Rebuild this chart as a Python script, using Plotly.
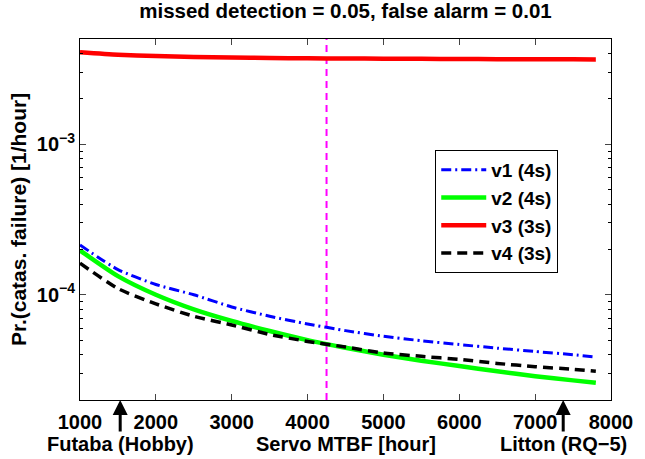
import plotly.graph_objects as go

# ---- data ----
mtbf = [1000, 1500, 2000, 2500, 3000, 3500, 4000, 4500, 5000, 5500, 6000, 6500, 7000, 7500, 7800]
v1 = [2.14e-4, 1.47e-4, 1.17e-4, 1.00e-4, 8.3e-5, 7.2e-5, 6.4e-5, 5.78e-5, 5.3e-5, 4.95e-5, 4.67e-5, 4.42e-5, 4.2e-5, 4.0e-5, 3.86e-5]
v2 = [1.97e-4, 1.33e-4, 1.00e-4, 8.0e-5, 6.7e-5, 5.75e-5, 5.0e-5, 4.45e-5, 4.0e-5, 3.65e-5, 3.36e-5, 3.1e-5, 2.88e-5, 2.7e-5, 2.6e-5]
v3 = [4.08e-3, 3.93e-3, 3.85e-3, 3.80e-3, 3.77e-3, 3.74e-3, 3.72e-3, 3.71e-3, 3.70e-3, 3.69e-3, 3.68e-3, 3.675e-3, 3.67e-3, 3.665e-3, 3.66e-3]
v4 = [1.62e-4, 1.10e-4, 8.7e-5, 7.2e-5, 6.3e-5, 5.45e-5, 4.9e-5, 4.5e-5, 4.1e-5, 3.9e-5, 3.72e-5, 3.5e-5, 3.33e-5, 3.2e-5, 3.1e-5]
series_names = ["v1 (4s)", "v2 (4s)", "v3 (3s)", "v4 (3s)"]

threshold_mtbf = 4250
futaba_mtbf = 1530
litton_mtbf = 7370

x_ticks = [1000, 2000, 3000, 4000, 5000, 6000, 7000, 8000]
y_ticks = [1e-4, 1e-3]
y_ticktext = ["10<sup>\u22124</sup>", "10<sup>\u22123</sup>"]
y_minor = [m * 10 ** e for e in (-5, -4, -3) for m in range(2, 10) if 2e-5 <= m * 10 ** e <= 5e-3]

FONT = "Liberation Sans, Arial, sans-serif"

fig = go.Figure()
styles = [
    dict(color="#0000ff", width=3, dash="10px,4px,2px,4px"),
    dict(color="#00ff00", width=4.5),
    dict(color="#ff0000", width=4.5),
    dict(color="#000000", width=3.5, dash="10px,6px"),
]
for name, ys, st in zip(series_names, [v1, v2, v3, v4], styles):
    fig.add_trace(go.Scatter(x=mtbf, y=ys, mode="lines", name=name,
                             line=dict(shape="spline", smoothing=0.6, **st)))

fig.add_shape(type="line", xref="x", yref="paper", x0=threshold_mtbf, x1=threshold_mtbf,
              y0=0, y1=1, line=dict(color="#ff00ff", width=2, dash="7px,5px"), layer="below")

# arrows under the x axis
for xv in (futaba_mtbf, litton_mtbf):
    fig.add_annotation(x=xv, y=0, xref="x", yref="paper", text="", showarrow=True,
                       ax=0, ay=33, arrowhead=2, arrowsize=1, arrowwidth=3,
                       arrowcolor="black")

bold = dict(family=FONT, size=20, color="black", weight="bold")
fig.add_annotation(x=futaba_mtbf, y=0, xref="x", yref="paper", text="Futaba (Hobby)",
                   showarrow=False, yshift=-44, yanchor="middle", font=bold)
fig.add_annotation(x=0.5, y=0, xref="paper", yref="paper", text="Servo MTBF [hour]",
                   showarrow=False, yshift=-44, yanchor="middle", font=bold)
fig.add_annotation(x=litton_mtbf, y=0, xref="x", yref="paper", text="Litton (RQ\u22125)",
                   showarrow=False, yshift=-44, yanchor="middle", font=bold)

fig.update_layout(
    width=645, height=459,
    margin=dict(l=80, r=24, t=39, b=59),
    paper_bgcolor="white", plot_bgcolor="white",
    font=dict(family=FONT, color="black"),
    title=dict(text="missed detection = 0.05, false alarm = 0.01", x=0.5, xref="paper",
               xanchor="center", y=1 - 11 / 459, yref="container", yanchor="middle",
               font=dict(family=FONT, size=20.5, color="black", weight="bold")),
    showlegend=True,
    legend=dict(x=0.669, y=0.6925, xanchor="left", yanchor="top",
                bgcolor="white", bordercolor="black", borderwidth=1,
                font=dict(family=FONT, size=19, color="black", weight="bold"),
                tracegroupgap=0, itemwidth=45),
)
fig.update_xaxes(range=[1000, 8000], tickvals=x_ticks, ticks="inside", ticklen=6,
                 showline=True, linecolor="black", linewidth=1, mirror="ticks",
                 showgrid=False, zeroline=False, ticklabelstandoff=4,
                 tickfont=dict(family=FONT, size=20, color="black", weight="bold"))
fig.update_yaxes(type="log", range=[-4.699, -2.301], tickvals=y_ticks, ticktext=y_ticktext,
                 ticks="inside", ticklen=6, showline=True, linecolor="black", linewidth=1,
                 mirror="ticks", showgrid=False, zeroline=False,
                 minor=dict(tickvals=y_minor, ticks="inside", ticklen=3, tickcolor="black", showgrid=False),
                 tickfont=dict(family=FONT, size=20, color="black", weight="bold"),
                 title=dict(text="Pr.(catas. failure) [1/hour]", standoff=4,
                            font=dict(family=FONT, size=21, color="black", weight="bold")))

fig.write_html("out.html", config={"displayModeBar": False},
               post_script="document.body.style.margin='0';document.body.style.padding='0';")
